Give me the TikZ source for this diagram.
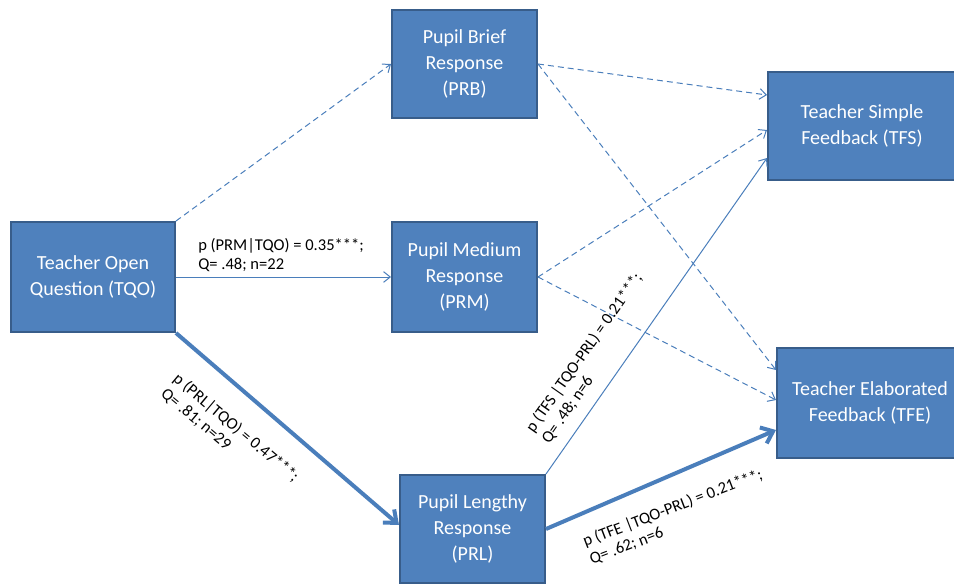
\documentclass[tikz,border=0pt]{standalone}
\usepackage{fontspec}
\setmainfont{Carlito}
\usetikzlibrary{arrows.meta}
\definecolor{boxblue}{HTML}{4F81BD}
\definecolor{boxedge}{HTML}{385D8A}
\definecolor{linkblue}{HTML}{4A7EBB}

\begin{document}
\begin{tikzpicture}[x=0.75pt, y=-0.75pt,
  state/.style={draw=boxedge, fill=boxblue, line width=1.5pt, text=white, align=center,
    font=\fontsize{15}{19.5}\selectfont, inner sep=0pt},
  thinlink/.style={draw=linkblue, line width=0.75pt, -{Straight Barb[length=5pt,width=8pt]}},
  dashlink/.style={thinlink, dash pattern=on 4.5pt off 3pt},
  thicklink/.style={draw=linkblue, line width=3pt, -{Straight Barb[length=8pt,width=13pt]}},
  prob/.style={font=\fontsize{12.4}{14.3}\selectfont, align=left, inner sep=0pt}]
  \useasboundingbox (0,0) rectangle (954,585);
  \clip (0,0) rectangle (954,585);
  % states
  \node[state, minimum width=123pt, minimum height=82.5pt] (tqo) at (93,277) {Teacher Open\\Question (TQO)};
  \node[state, minimum width=108.75pt, minimum height=81pt] (prb) at (464.5,64) {Pupil Brief\\Response\\(PRB)};
  \node[state, minimum width=108.75pt, minimum height=82.5pt] (prm) at (464.5,277) {Pupil Medium\\Response\\(PRM)};
  \node[state, minimum width=108.75pt, minimum height=81pt] (prl) at (472.5,529) {Pupil Lengthy\\Response\\(PRL)};
  \node[state, minimum width=141pt, minimum height=81pt] (tfs) at (862,126) {Teacher Simple\\Feedback (TFS)};
  \node[state, minimum width=139.5pt, minimum height=82.5pt] (tfe) at (870,403) {Teacher Elaborated\\Feedback (TFE)};
  % transitions
  \draw[dashlink] (tqo.north east) -- (prb.west);
  \draw[thinlink] (tqo.east) -- (prm.west);
  \draw[thicklink] (tqo.south east) -- ([yshift=3pt]prl.west);
  \draw[dashlink] (prb.east) -- ([yshift=23.25pt]tfs.west);
  \draw[dashlink] (prb.east) -- ([yshift=24.75pt]tfe.west);
  \draw[dashlink] (prm.east) -- ([yshift=-3pt]tfs.west);
  \draw[dashlink] (prm.east) -- ([yshift=2.25pt]tfe.west);
  \draw[thinlink] (prl.north east) -- ([yshift=-24pt]tfs.west);
  \draw[thicklink] (prl.east) -- ([yshift=-20.25pt]tfe.west);
  % conditional probabilities
  \node[prob, anchor=west] (lprm) at (198,255.5) {p (PRM|TQO) = 0.35***;\\Q= .48; n=22};
  \node[prob, rotate=-40] (lprl) at (230,435) {p (PRL|TQO) = 0.47***;\\Q= .81; n=29};
  \node[prob, rotate=55] (ltfs) at (592,358) {p (TFS |TQO-PRL) = 0.21***;\\Q= .48; n=6};
  \node[prob, rotate=21] (ltfe) at (676,517) {p (TFE |TQO-PRL) = 0.21***;\\Q= .62; n=6};
\end{tikzpicture}
\end{document}
